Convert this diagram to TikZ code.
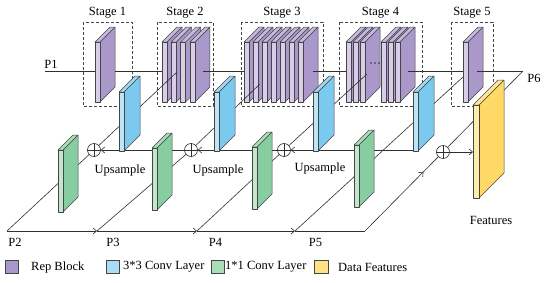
\documentclass[tikz,border=0pt]{standalone}
\usepackage{fontspec}
\setmainfont{Liberation Serif}
\usetikzlibrary{arrows.meta,decorations.markings}
\definecolor{pfront}{HTML}{D8CEE8}
\definecolor{pside}{HTML}{A998C9}
\definecolor{ptop}{HTML}{C6B9DD}
\definecolor{bfront}{HTML}{BCE5F8}
\definecolor{bside}{HTML}{7CC9F0}
\definecolor{btop}{HTML}{A3D8F2}
\definecolor{gfront}{HTML}{C2E7CC}
\definecolor{gside}{HTML}{88CDA2}
\definecolor{gtop}{HTML}{A8DDB8}
\definecolor{yfront}{HTML}{FFECA6}
\definecolor{yside}{HTML}{FFD865}
\definecolor{ytop}{HTML}{FFE594}
\definecolor{edgec}{HTML}{454545}
\definecolor{linec}{HTML}{303030}
\newcommand{\drawslab}[8]{%
  \filldraw[slabline, fill=#7] (#1+#4,#2) -- (#1+#4,#3) -- (#1+#4+#5,#3-#5) -- (#1+#4+#5,#2-#5) -- cycle;
  \filldraw[slabline, fill=#8] (#1,#2) -- (#1+#4,#2) -- (#1+#4+#5,#2-#5) -- (#1+#5,#2-#5) -- cycle;
  \filldraw[slabline, fill=#6] (#1,#2) rectangle (#1+#4,#3);
}
\tikzset{
  slabline/.style={draw=edgec, line width=0.5pt, line join=round},
  stagebox/.style={draw=edgec, dashed, dash pattern=on 3pt off 2pt, line width=0.6pt},
  conn/.style={draw=linec, line width=0.6pt},
  tip/.style={-{Straight Barb[length=3.5pt,width=6pt]}},
  plusnode/.style={circle, draw=linec, fill=white, line width=0.6pt, minimum size=13pt, inner sep=0pt},
  lbl/.style={font=\fontsize{12.5}{14}\selectfont, inner sep=0pt},
  legsq/.style={draw=edgec, line width=0.5pt},
  midarrow/.style={postaction={decorate}, decoration={markings, mark=at position #1 with {\arrow{Straight Barb[length=3.5pt,width=6pt]}}}}
}
\begin{document}
\begin{tikzpicture}[x=1pt,y=-1pt]
\useasboundingbox (0,0) rectangle (550,282);
% stage boxes and labels
\draw[stagebox] (83,22) rectangle (132,106);
\draw[stagebox] (157,22) rectangle (213,106);
\draw[stagebox] (241,22) rectangle (323,106);
\draw[stagebox] (339,22) rectangle (422,106);
\draw[stagebox] (451,22) rectangle (493,106);
\node[lbl] (st1) at (107.5,13) {Stage 1};
\node[lbl] (st2) at (185,13) {Stage 2};
\node[lbl] (st3) at (282,13) {Stage 3};
\node[lbl] (st4) at (380.5,13) {Stage 4};
\node[lbl] (st5) at (472,13) {Stage 5};
% purple rep blocks
\drawslab{95}{42}{102}{5}{15}{pfront}{pside}{ptop}
\foreach \i in {0,...,3}{\drawslab{162+9.3*\i}{42}{102}{5}{15}{pfront}{pside}{ptop}}
\foreach \i in {0,...,6}{\drawslab{244+9*\i}{42}{102}{5}{15}{pfront}{pside}{ptop}}
\foreach \i in {0,...,2}{\drawslab{346+7*\i}{42}{102}{5}{15}{pfront}{pside}{ptop}}
\foreach \i in {0,...,2}{\drawslab{381+7*\i}{42}{102}{5}{15}{pfront}{pside}{ptop}}
\drawslab{463}{42}{102}{5}{15}{pfront}{pside}{ptop}
\foreach \x in {371,375,379}{\fill[linec] (\x,63) circle (0.8pt);}
% coordinates
\coordinate (P1s) at (45,71);
\coordinate (S1in) at (95,71);   \coordinate (S1out) at (115,71);
\coordinate (S2in) at (162,71);  \coordinate (S2out) at (203,71);
\coordinate (S3in) at (244,71);  \coordinate (S3out) at (313,71);
\coordinate (S4in) at (346,71);  \coordinate (S4out) at (408,71);
\coordinate (S5in) at (463,71);  \coordinate (S5out) at (477,71);
\coordinate (P6c) at (523,71);
\coordinate (B2) at (7,231);  \coordinate (B3) at (97,231);
\coordinate (B4) at (197,231); \coordinate (B5) at (295,231);
\coordinate (B6) at (365,231);
\coordinate (E2) at (177,72); \coordinate (E3) at (260,84);
\coordinate (E4) at (367,74); \coordinate (E5) at (463,77);
\coordinate (U2) at (214,150); \coordinate (U3) at (313,150); \coordinate (U4) at (413,150);
\coordinate (Yin) at (473,152);
% plus nodes
\node[plusnode] (o1) at (94,150) {};
\node[plusnode] (o2) at (191,150) {};
\node[plusnode] (o3) at (284,150) {};
\node[plusnode] (o4) at (443,152) {};
\foreach \n in {o1,o2,o3,o4}{\draw[conn] (\n.north) -- (\n.south) (\n.west) -- (\n.east);}
% P1 line
\draw[conn] (P1s) -- (S1in);
\draw[conn] (S1out) -- (S2in);
\draw[conn] (S2out) -- (S3in);
\draw[conn] (S3out) -- (S4in);
\draw[conn] (S4out) -- (S5in);
\draw[conn] (S5out) -- (P6c);
% bottom line
\draw[conn,tip] (B2) -- (B3);
\draw[conn,tip] (B3) -- (B4);
\draw[conn,tip] (B4) -- (B5);
\draw[conn] (B5) -- (B6);
% diagonals
\draw[conn] (B2) -- (o1); \draw[conn] (o1) -- (E2);
\draw[conn] (B3) -- (o2); \draw[conn] (o2) -- (E3);
\draw[conn] (B4) -- (o3); \draw[conn] (o3) -- (E4);
\draw[conn] (B5) -- (E5);
\draw[conn,midarrow=0.8] (B6) -- (o4);
\draw[conn,midarrow=0.66] (P6c) -- (o4);
% upsample lines
\draw[conn,tip] (U2) -- (o1);
\draw[conn,tip] (U3) -- (o2);
\draw[conn,tip] (U4) -- (o3);
\draw[conn,tip] (o4) -- (Yin);
% green 1x1 conv
\drawslab{58}{150}{212}{5}{15}{gfront}{gside}{gtop}
\drawslab{152}{148}{210}{5}{15}{gfront}{gside}{gtop}
\drawslab{252}{147}{209}{5}{15}{gfront}{gside}{gtop}
\drawslab{354}{145}{207}{5}{15}{gfront}{gside}{gtop}
% blue 3x3 conv
\drawslab{119}{92}{151}{5}{16}{bfront}{bside}{btop}
\drawslab{214}{92}{151}{5}{16}{bfront}{bside}{btop}
\drawslab{313}{92}{151}{5}{16}{bfront}{bside}{btop}
\drawslab{413}{92}{151}{5}{16}{bfront}{bside}{btop}
% yellow features
\drawslab{473}{105}{198}{6}{25}{yfront}{yside}{ytop}
% labels
\node[lbl] (lp1) at (51,64) {P1};
\node[lbl] (lp2) at (15,242) {P2};
\node[lbl] (lp3) at (113,242) {P3};
\node[lbl] (lp4) at (215.5,242) {P4};
\node[lbl] (lp5) at (315.5,242) {P5};
\node[lbl] (lp6) at (534,78) {P6};
\node[lbl] (up1) at (120,170) {Upsample};
\node[lbl] (up2) at (218,170) {Upsample};
\node[lbl] (up3) at (320,168) {Upsample};
\node[lbl] (feat) at (491,220) {Features};
% legend
\filldraw[legsq, fill=pside] (5,260) rectangle (18,273);
\node[lbl, anchor=west] (lg1) at (31,267) {Rep Block};
\filldraw[legsq, fill=bfront!70!bside] (106,260) rectangle (119,273);
\node[lbl, anchor=west] (lg2) at (123,267) {3*3 Conv Layer};
\filldraw[legsq, fill=gfront!60!gside] (211,260) rectangle (224,273);
\node[lbl, anchor=west] (lg3) at (225,267) {1*1 Conv Layer};
\filldraw[legsq, fill=yfront!50!yside] (314,260) rectangle (328,273);
\node[lbl, anchor=west] (lg4) at (338,267) {Data Features};
\end{tikzpicture}
\end{document}
